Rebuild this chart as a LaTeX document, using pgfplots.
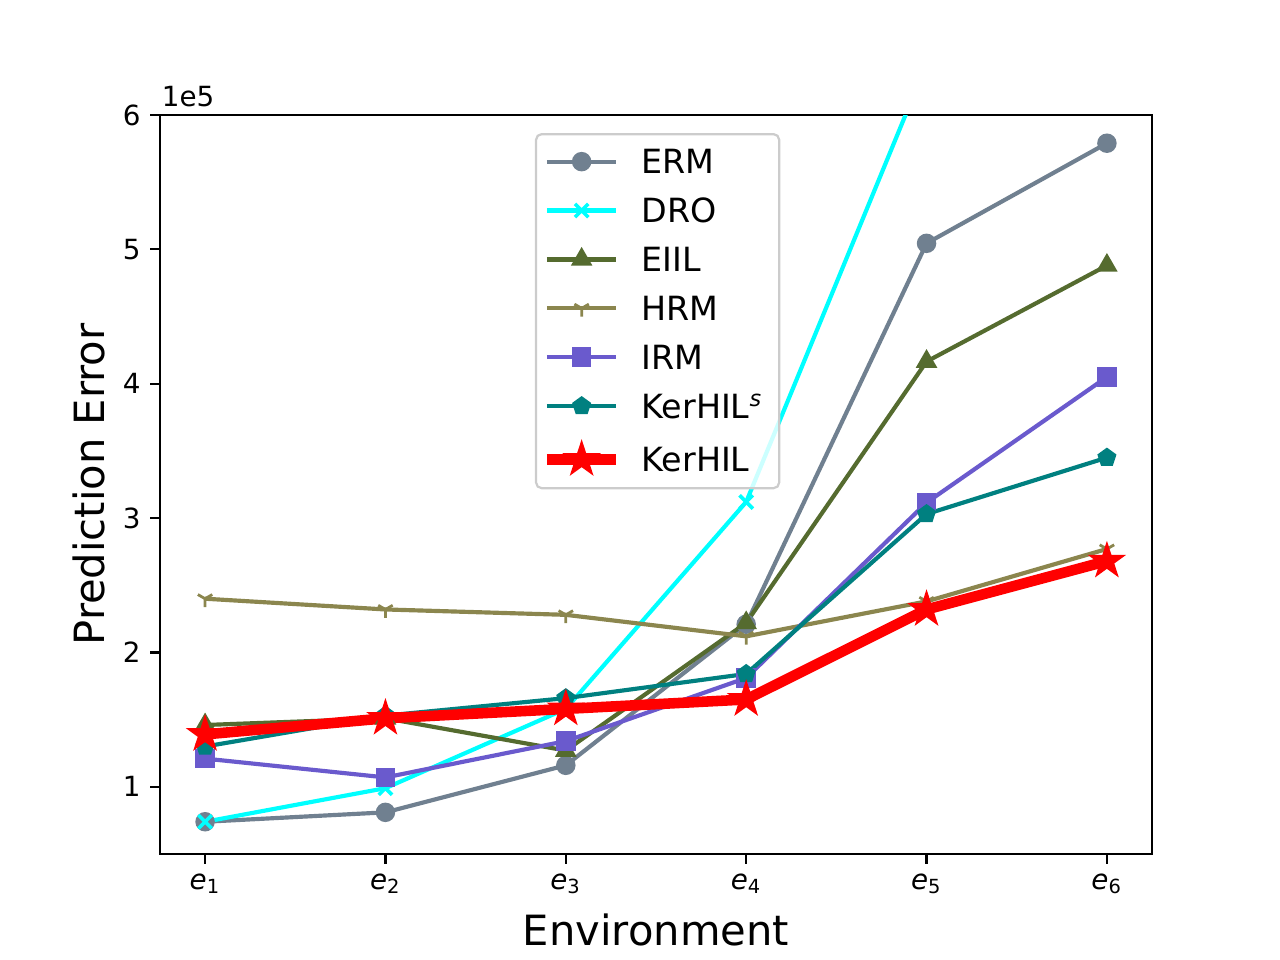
\documentclass[border=0pt]{standalone}
\usepackage{fontspec}
\setmainfont{DejaVu Sans}
\usepackage{pgfplots}
\pgfplotsset{compat=1.18}
\usetikzlibrary{plotmarks,calc}
\definecolor{cERM}{RGB}{112,128,144}
\definecolor{cDRO}{RGB}{0,255,255}
\definecolor{cEIIL}{RGB}{85,107,47}
\definecolor{cHRM}{RGB}{139,134,78}
\definecolor{cIRM}{RGB}{106,90,205}
\definecolor{cKS}{RGB}{0,128,128}
\definecolor{cK}{RGB}{255,0,0}
\definecolor{legedge}{RGB}{204,204,204}
\pgfdeclareplotmark{fstar}{%
  \pgfpathmoveto{\pgfpointpolar{90}{\pgfplotmarksize}}%
  \pgfpathlineto{\pgfpointpolar{126}{0.382\pgfplotmarksize}}%
  \pgfpathlineto{\pgfpointpolar{162}{\pgfplotmarksize}}%
  \pgfpathlineto{\pgfpointpolar{198}{0.382\pgfplotmarksize}}%
  \pgfpathlineto{\pgfpointpolar{234}{\pgfplotmarksize}}%
  \pgfpathlineto{\pgfpointpolar{270}{0.382\pgfplotmarksize}}%
  \pgfpathlineto{\pgfpointpolar{306}{\pgfplotmarksize}}%
  \pgfpathlineto{\pgfpointpolar{342}{0.382\pgfplotmarksize}}%
  \pgfpathlineto{\pgfpointpolar{18}{\pgfplotmarksize}}%
  \pgfpathlineto{\pgfpointpolar{54}{0.382\pgfplotmarksize}}%
  \pgfpathclose
  \pgfusepathqfillstroke}
\begin{document}
\begin{tikzpicture}
\useasboundingbox (-57.6pt,-38.16pt) rectangle (403.2pt,307.44pt);
\begin{axis}[
  name=ax, at={(0,0)}, anchor=south west,
  scale only axis, width=357.12pt, height=266.04pt,
  xmin=0.75, xmax=6.25, ymin=0.5, ymax=6,
  xtick={1,2,3,4,5,6},
  xticklabels={\textit{e}\textsubscript{1},\textit{e}\textsubscript{2},\textit{e}\textsubscript{3},\textit{e}\textsubscript{4},\textit{e}\textsubscript{5},\textit{e}\textsubscript{6}},
  ytick={1,2,3,4,5,6},
  /pgf/number format/assume math mode=true,
  tick label style={font=\fontsize{10}{12}\selectfont},
  tick align=outside, tick pos=left,
  major tick length=3.5pt,
  every tick/.style={line width=0.8pt, black},
  axis line style={line width=0.8pt},
  xlabel={Environment}, ylabel={Prediction Error},
  every axis x label/.style={at={(axis description cs:0.5,-0.103)}, anchor=center, font=\fontsize{15}{18}\selectfont},
  every axis y label/.style={at={(axis description cs:-0.0715,0.5)}, rotate=90, anchor=center, font=\fontsize{15}{18}\selectfont},
  legend cell align=left,
  legend image code/.code={\draw[mark repeat=2,mark phase=2,fill opacity=1,draw opacity=1,#1] plot coordinates {(0pt,0pt) (12.5pt,0pt) (25pt,0pt)};},
  legend style={at={(0.378,0.9756)}, anchor=north west,
    draw=legedge, line width=0.8pt, fill=white, fill opacity=0.8, draw opacity=1, text opacity=1,
    rounded corners=2pt, inner xsep=2pt, inner ysep=5.5pt,
    row sep=8.8pt, column sep=7.2pt,
    font=\fontsize{12}{14.4}\selectfont,
    nodes={inner sep=0pt, text height=8.8pt, text depth=0pt, text width=47.5pt, align=left}},
]
\addplot[color=cERM, line width=1.5pt, mark=*, mark size=3pt, mark options={solid, fill=cERM, draw=cERM, line width=1pt}]
  coordinates {(1,0.74) (2,0.81) (3,1.16) (4,2.21) (5,5.045) (6,5.79)};
\addlegendentry{ERM}
\addplot[color=cDRO, line width=1.5pt, mark=x, mark size=3.4pt, mark options={solid, draw=cDRO, line width=1.3pt}]
  coordinates {(1,0.74) (2,0.99) (3,1.58) (4,3.12) (5,6.38) (6,8.5)};
\addlegendentry{DRO}
\addplot[color=cEIIL, line width=1.5pt, mark=triangle*, mark size=3.5pt, mark options={solid, fill=cEIIL, draw=cEIIL, line width=1pt}]
  coordinates {(1,1.46) (2,1.51) (3,1.27) (4,2.22) (5,4.165) (6,4.88)};
\addlegendentry{EIIL}
\addplot[color=cHRM, line width=1.5pt, mark=Mercedes star flipped, mark size=3pt, mark options={solid, draw=cHRM, line width=1pt}]
  coordinates {(1,2.40) (2,2.32) (3,2.28) (4,2.12) (5,2.38) (6,2.77)};
\addlegendentry{HRM}
\addplot[color=cIRM, line width=1.5pt, mark=square*, mark size=3pt, mark options={solid, fill=cIRM, draw=cIRM, line width=1pt}]
  coordinates {(1,1.21) (2,1.07) (3,1.34) (4,1.81) (5,3.115) (6,4.05)};
\addlegendentry{IRM}
\addplot[color=cKS, line width=1.5pt, mark=pentagon*, mark size=3pt, mark options={solid, fill=cKS, draw=cKS, line width=1pt}]
  coordinates {(1,1.30) (2,1.53) (3,1.66) (4,1.84) (5,3.03) (6,3.45)};
\addlegendentry{KerHIL\textsuperscript{\textit{s}}}
\addplot[color=cK, line width=3.8pt, mark=fstar, mark size=6pt, mark options={solid, fill=cK, draw=cK, line width=0.8pt}]
  coordinates {(1,1.39) (2,1.51) (3,1.58) (4,1.65) (5,2.32) (6,2.68)};
\addlegendentry{KerHIL}
\end{axis}
\node[anchor=base west, inner sep=0pt, font=\fontsize{10}{12}\selectfont] at ($(ax.north west)+(0.5pt,3pt)$) {1e5};
\end{tikzpicture}
\end{document}
